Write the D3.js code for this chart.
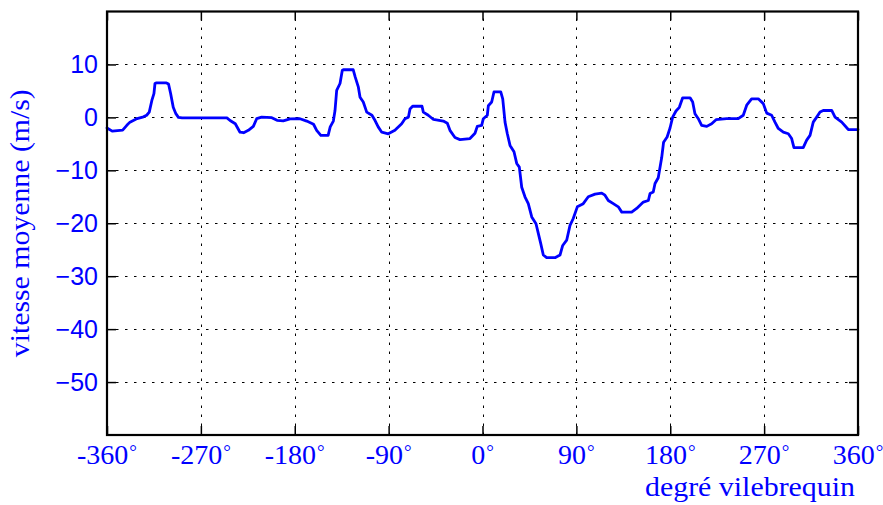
<!DOCTYPE html>
<html>
<head>
<meta charset="utf-8">
<script src="https://cdn.jsdelivr.net/npm/d3@7"></script>
<style>
  html, body { margin: 0; padding: 0; background: #fff; }
  svg { display: block; }
</style>
</head>
<body>
<svg id="chart" width="883" height="505"></svg>
<script>
// ---- data ----
const angles = [
  -360, -355, -350, -345, -341, -338, -332, -325, -322, -319.5, -317, -315, -314, -313, -303, -301, -299, -296.5, -294, -291.5,
  -288, -245, -242, -237, -232.5, -229, -224.5, -219.7, -216.5, -211.7, -202, -197, -191, -184.5, -175, -168.5, -162, -159, -155, -148,
  -146, -143, -141.4, -139.8, -136.6, -134.4, -133.4, -124, -122, -119, -117.4, -114.3, -111, -106, -103, -100, -96.6, -90.3, -84, -77.5,
  -74.3, -71, -69.5, -67, -58, -56.7, -52, -47, -37.6, -33.7, -31.2, -26.4, -21.6, -12, -7.2, -5, -0.8, 0.8, 4.6, 5.6,
  8.8, 11, 17.5, 19.4, 21.6, 23.8, 26.4, 30.2, 32.8, 35.3, 37.6, 40.7, 43.9, 47.2, 51.3, 53.5, 55.8, 58.3, 61.5, 69.5,
  74.3, 76.9, 80.7, 83.9, 87, 90.9, 96.6, 101.4, 107.9, 114.3, 117.4, 120.6, 125.4, 130.2, 133.5, 143, 147.8, 154.2, 159, 160.6,
  163.7, 165.4, 168.5, 171.8, 173.6, 177, 179.8, 182.3, 185.5, 188.7, 191.9, 199, 201.5, 203.7, 206.9, 210.1, 215, 219.7, 223.9, 234.1,
  245.2, 250, 253.3, 258, 264.4, 269.2, 272.5, 277.2, 280.4, 283.6, 288.4, 293.2, 296.4, 298.6, 307.5, 310.8, 314, 317.1, 320.4, 323.6,
  326.7, 334.8, 338, 344.4, 350.7, 360
];
const speeds = [
  -2.0, -2.6, -2.5, -2.4, -1.5, -0.9, -0.3, 0.1, 0.4, 1.0, 3.2, 4.5, 6.4, 6.5, 6.5, 6.3, 4.5, 1.9, 0.7, 0.0,
  -0.1, -0.1, -0.6, -1.2, -2.8, -2.9, -2.45, -1.7, -0.25, 0.05, -0.05, -0.55, -0.65, -0.3, -0.25, -0.7, -1.3, -2.45, -3.4, -3.4,
  -1.8, -0.7, 1.3, 5.1, 6.4, 8.9, 9.0, 9.0, 7.6, 5.7, 3.8, 2.9, 1.0, 0.4, -0.6, -1.8, -2.8, -3.1, -2.45, -1.2,
  -0.25, 0.05, 1.6, 2.1, 2.1, 1.0, 0.4, -0.4, -0.7, -1.1, -2.45, -3.8, -4.2, -4.0, -3.0, -1.7, -1.5, -0.25, 0.4, 2.2,
  2.9, 4.8, 4.8, 3.5, -0.9, -3.1, -5.3, -6.5, -8.7, -9.4, -13.2, -15.0, -16.3, -18.8, -20.1, -21.9, -23.8, -26.0, -26.5, -26.5,
  -26.0, -24.2, -23.2, -20.4, -19.1, -16.9, -16.3, -15.0, -14.5, -14.3, -14.7, -15.7, -16.3, -16.9, -17.9, -17.9, -17.2, -16.0, -15.7, -14.4,
  -14.1, -12.5, -11.4, -7.6, -4.7, -3.7, -2.0, 0.05, 1.2, 1.9, 3.7, 3.7, 2.9, 0.7, -0.25, -1.5, -1.7, -1.2, -0.44, -0.25,
  -0.25, 0.4, 2.3, 3.5, 3.5, 2.6, 0.8, 0.4, -0.9, -2.1, -2.8, -3.1, -4.0, -5.7, -5.7, -4.3, -3.4, -0.9, 0.05, 1.0,
  1.3, 1.3, 0.05, -0.9, -2.3, -2.3
];
const xTicks = [-360, -270, -180, -90, 0, 90, 180, 270, 360];
const xTickLabels = ["-360", "-270", "-180", "-90", "0", "90", "180", "270", "360"];
const yTicks = [10, 0, -10, -20, -30, -40, -50];
const yTickLabels = ["10", "0", "\u221210", "\u221220", "\u221230", "\u221240", "\u221250"];
const xDomain = [-360, 360];
const yDomain = [-60, 20];
const xTitle = "degré vilebrequin";
const yTitle = "vitesse moyenne (m/s)";

// ---- layout ----
const L = 107, R = 858, T = 11.5, B = 435;
const blue = "#0000ff";
const svg = d3.select("#chart");
const x = d3.scaleLinear().domain(xDomain).range([L, R]);
const y = d3.scaleLinear().domain(yDomain).range([B, T]);

// grid
const grid = svg.append("g").attr("stroke", "#000").attr("stroke-width", 1)
  .attr("stroke-dasharray", "2.5,6.5");
grid.selectAll("line.gx").data(xTicks.filter(d => d > xDomain[0] && d < xDomain[1]))
  .join("line").attr("class", "gx")
  .attr("x1", d => Math.round(x(d)) + 0.5).attr("x2", d => Math.round(x(d)) + 0.5)
  .attr("y1", B).attr("y2", T);
grid.selectAll("line.gy").data(yTicks)
  .join("line").attr("class", "gy")
  .attr("y1", d => Math.round(y(d)) + 0.5).attr("y2", d => Math.round(y(d)) + 0.5)
  .attr("x1", L).attr("x2", R);

// ticks (inward, all four sides) via d3 axes
const tickLen = 9;
const axB = svg.append("g").attr("transform", `translate(0,${B})`)
  .call(d3.axisTop(x).tickValues(xTicks).tickSize(tickLen).tickFormat(""));
const axT = svg.append("g").attr("transform", `translate(0,${T})`)
  .call(d3.axisBottom(x).tickValues(xTicks).tickSize(tickLen).tickFormat(""));
const axL = svg.append("g").attr("transform", `translate(${L},0)`)
  .call(d3.axisRight(y).tickValues(yTicks).tickSize(tickLen).tickFormat(""));
const axR = svg.append("g").attr("transform", `translate(${R},0)`)
  .call(d3.axisLeft(y).tickValues(yTicks).tickSize(tickLen).tickFormat(""));
[axB, axT, axL, axR].forEach(a => {
  a.select(".domain").remove();
  a.selectAll(".tick line").attr("stroke", "#000").attr("stroke-width", 1.5);
});

// curve
const line = d3.line().x((d, i) => x(angles[i])).y(d => y(d));
svg.append("path").datum(speeds)
  .attr("d", line)
  .attr("fill", "none").attr("stroke", blue).attr("stroke-width", 2.8)
  .attr("stroke-linejoin", "round").attr("stroke-linecap", "round");

// frame
svg.append("rect").attr("x", L).attr("y", T).attr("width", R - L).attr("height", B - T)
  .attr("fill", "none").attr("stroke", "#000").attr("stroke-width", 2.2);

// x tick labels
const xl = svg.append("g").attr("fill", blue)
  .attr("font-family", "'Liberation Serif', 'DejaVu Serif', serif").attr("font-size", 28)
  .attr("text-anchor", "middle");
xTicks.forEach((d, i) => {
  const t = xl.append("text").attr("x", x(d)).attr("y", 464);
  t.append("tspan").text(xTickLabels[i]);
  t.append("tspan").attr("font-size", 19).attr("dx", 1).attr("dy", -6).text("\u00b0");
});

// y tick labels
svg.append("g").attr("fill", blue)
  .attr("font-family", "'Liberation Sans', Arial, sans-serif").attr("font-size", 25)
  .attr("text-anchor", "end")
  .selectAll("text").data(yTicks).join("text")
  .attr("x", 98).attr("y", d => y(d) + 9)
  .text((d, i) => yTickLabels[i]);

// axis titles
svg.append("text").attr("fill", blue)
  .attr("font-family", "'Liberation Serif', 'DejaVu Serif', serif").attr("font-size", 28)
  .attr("text-anchor", "end").attr("x", 855).attr("y", 496)
  .attr("textLength", 210).attr("lengthAdjust", "spacingAndGlyphs")
  .text(xTitle);
svg.append("text").attr("fill", blue)
  .attr("font-family", "'Liberation Serif', 'DejaVu Serif', serif").attr("font-size", 27)
  .attr("text-anchor", "middle")
  .attr("transform", `translate(29,${(T + B) / 2}) rotate(-90)`)
  .attr("textLength", 268).attr("lengthAdjust", "spacingAndGlyphs")
  .text(yTitle);
</script>
</body>
</html>
